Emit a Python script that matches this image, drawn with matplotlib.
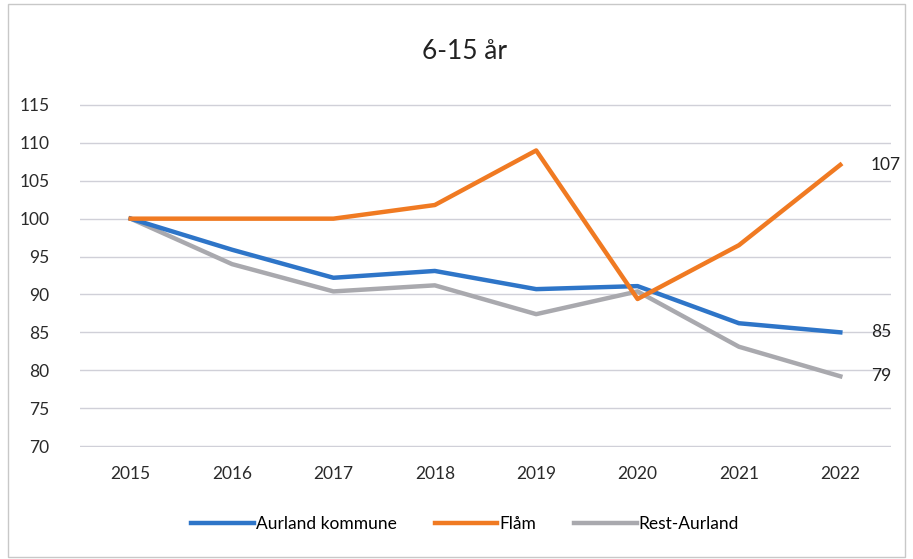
import matplotlib.pyplot as plt
from matplotlib.patches import Rectangle

# data
years = ['2015', '2016', '2017', '2018', '2019', '2020', '2021', '2022']
aurland = [100, 95.9, 92.2, 93.1, 90.7, 91.1, 86.2, 85.0]
flam = [100, 100, 100, 101.8, 109.0, 89.4, 96.5, 107.1]
rest = [100, 94.0, 90.4, 91.2, 87.4, 90.4, 83.1, 79.2]
yticks = [70, 75, 80, 85, 90, 95, 100, 105, 110, 115]

plt.rcParams['font.family'] = ['Lato', 'DejaVu Sans']

fig = plt.figure(figsize=(9.13, 5.59), dpi=100)
ax = fig.add_axes([80 / 913, 1 - 447 / 559, (891 - 80) / 913, (447 - 104) / 559])

x = range(len(years))
ax.plot(x, aurland, color='#2E75C8', lw=3.2, label='Aurland kommune', zorder=3)
ax.plot(x, flam, color='#F07A22', lw=3.2, label='Flåm', zorder=4)
ax.plot(x, rest, color='#A9A9AE', lw=3.2, label='Rest-Aurland', zorder=2)

ax.set_xlim(-0.5, len(years) - 0.5)
ax.set_ylim(69.87, 115.13)
ax.set_xticks(list(x))
ax.set_xticklabels(years)
ax.set_yticks(yticks)
ax.tick_params(axis='both', length=0, labelsize=12.5, colors='#2a2a2a')
ax.tick_params(axis='x', pad=14)
ax.tick_params(axis='y', pad=22)
ax.grid(axis='y', color='#D0D0D8', lw=1)
ax.set_axisbelow(True)
for s in ax.spines.values():
    s.set_visible(False)

# end labels
ax.annotate('107', (7, flam[-1]), xytext=(22, 0), textcoords='offset points',
            va='center', fontsize=12.5, color='#222222')
ax.annotate('85', (7, aurland[-1]), xytext=(22, 0), textcoords='offset points',
            va='center', fontsize=12.5, color='#222222')
ax.annotate('79', (7, rest[-1]), xytext=(22, 0), textcoords='offset points',
            va='center', fontsize=12.5, color='#222222')

fig.text(465 / 913, 1 - 52 / 559, '6-15 år', ha='center', va='center',
         fontsize=19, color='#222222')

fig.legend(loc='center', bbox_to_anchor=(465 / 913, 1 - 524 / 559), ncol=3,
           frameon=False, fontsize=12.5, handlelength=3.6, handletextpad=0.1,
           columnspacing=2.2)

fig.patches.append(Rectangle((8 / 913, 2 / 559), 897 / 913, 553 / 559,
                             transform=fig.transFigure, fill=False,
                             edgecolor='#C8C8C8', lw=1))

fig.savefig('out.png', dpi=100)
